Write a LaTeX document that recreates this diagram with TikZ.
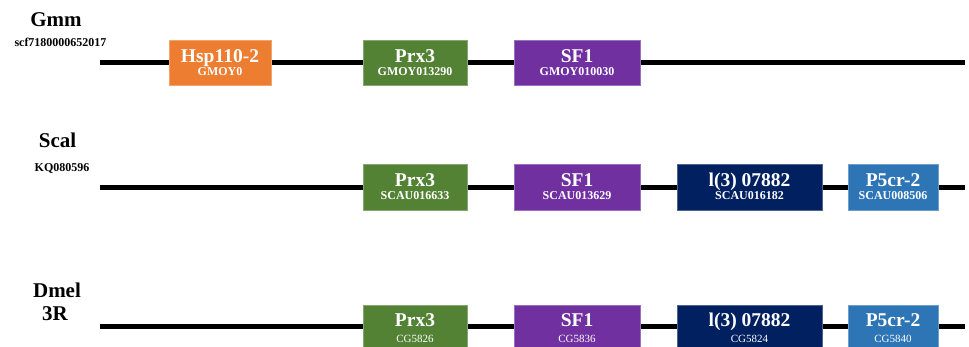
\documentclass[tikz,border=0pt]{standalone}
\usepackage{fontspec}
\setmainfont{Liberation Serif}
\definecolor{cOrange}{HTML}{ED7D31}
\definecolor{cGreen}{HTML}{548235}
\definecolor{cPurple}{HTML}{7030A0}
\definecolor{cNavy}{HTML}{002060}
\definecolor{cBlue}{HTML}{2E75B6}
\begin{document}
\begin{tikzpicture}[x=1pt,y=-1pt,
  chrom/.style={line width=5pt,black},
  genebox/.style={rectangle,inner sep=0pt,draw=#1!70!white,line width=0.6pt,fill=#1},
  gtitle/.style={anchor=base,text=white,inner sep=0pt,font=\fontsize{19.5}{21}\selectfont\bfseries},
  gsub/.style={anchor=base,text=white,inner sep=0pt,font=\fontsize{12}{13}\selectfont\bfseries},
  gsubr/.style={anchor=base,text=white,inner sep=0pt,font=\fontsize{11}{13}\selectfont},
  spname/.style={anchor=base,inner sep=0pt,font=\fontsize{21}{22}\selectfont\bfseries},
  spsub/.style={anchor=base,inner sep=0pt,font=\fontsize{12}{13}\selectfont\bfseries}]
\useasboundingbox (0,0) rectangle (969,347);
% species labels
\node[spname] (gmm) at (56,27) {Gmm};
\node[spsub] (gmmc) at (60.5,47) {scf7180000652017};
\node[spname] (scal) at (57.5,148) {Scal};
\node[spsub] (scalc) at (62,172) {KQ080596};
\node[spname] (dmel) at (57,298) {Dmel};
\node[spname] (dmelc) at (55,320) {3R};
% chromosome lines
\coordinate (a1) at (100,63);  \coordinate (b1) at (965,63);
\coordinate (a2) at (100,187.5); \coordinate (b2) at (965,187.5);
\coordinate (a3) at (100,326.5); \coordinate (b3) at (965,326.5);
\draw[chrom] (a1) -- (b1);
\draw[chrom] (a2) -- (b2);
\draw[chrom] (a3) -- (b3);
% row 1
\node[genebox=cOrange,minimum width=102pt,minimum height=45pt] (h1) at (220,62.5) {};
\node[genebox=cGreen,minimum width=104pt,minimum height=45pt] (p1) at (415,62.5) {};
\node[genebox=cPurple,minimum width=126pt,minimum height=45pt] (s1) at (577,62.5) {};
\node[gtitle] at ([yshift=-23pt]h1.north) {Hsp110-2};
\node[gsub] at ([yshift=-36pt]h1.north) {GMOY0};
\node[gtitle] at ([yshift=-23pt]p1.north) {Prx3};
\node[gsub] at ([yshift=-36pt]p1.north) {GMOY013290};
\node[gtitle] at ([yshift=-23pt]s1.north) {SF1};
\node[gsub] at ([yshift=-36pt]s1.north) {GMOY010030};
% row 2
\node[genebox=cGreen,minimum width=104pt,minimum height=46pt] (p2) at (415,187) {};
\node[genebox=cPurple,minimum width=126pt,minimum height=46pt] (s2) at (577,187) {};
\node[genebox=cNavy,minimum width=145pt,minimum height=46pt] (l2) at (749.5,187) {};
\node[genebox=cBlue,minimum width=90pt,minimum height=46pt] (r2) at (893,187) {};
\node[gtitle] at ([yshift=-23pt]p2.north) {Prx3};
\node[gsub] at ([yshift=-36pt]p2.north) {SCAU016633};
\node[gtitle] at ([yshift=-23pt]s2.north) {SF1};
\node[gsub] at ([yshift=-36pt]s2.north) {SCAU013629};
\node[gtitle] at ([yshift=-23pt]l2.north) {l(3) 07882};
\node[gsub] at ([yshift=-36pt]l2.north) {SCAU016182};
\node[gtitle] at ([yshift=-23pt]r2.north) {P5cr-2};
\node[gsub] at ([yshift=-36pt]r2.north) {SCAU008506};
% row 3
\node[genebox=cGreen,minimum width=104pt,minimum height=46pt] (p3) at (415,328) {};
\node[genebox=cPurple,minimum width=126pt,minimum height=46pt] (s3) at (577,328) {};
\node[genebox=cNavy,minimum width=145pt,minimum height=46pt] (l3) at (749.5,328) {};
\node[genebox=cBlue,minimum width=90pt,minimum height=46pt] (r3) at (893,328) {};
\node[gtitle] at ([yshift=-22pt]p3.north) {Prx3};
\node[gsubr] at ([yshift=-38pt]p3.north) {CG5826};
\node[gtitle] at ([yshift=-22pt]s3.north) {SF1};
\node[gsubr] at ([yshift=-38pt]s3.north) {CG5836};
\node[gtitle] at ([yshift=-22pt]l3.north) {l(3) 07882};
\node[gsubr] at ([yshift=-38pt]l3.north) {CG5824};
\node[gtitle] at ([yshift=-22pt]r3.north) {P5cr-2};
\node[gsubr] at ([yshift=-38pt]r3.north) {CG5840};
\end{tikzpicture}
\end{document}
